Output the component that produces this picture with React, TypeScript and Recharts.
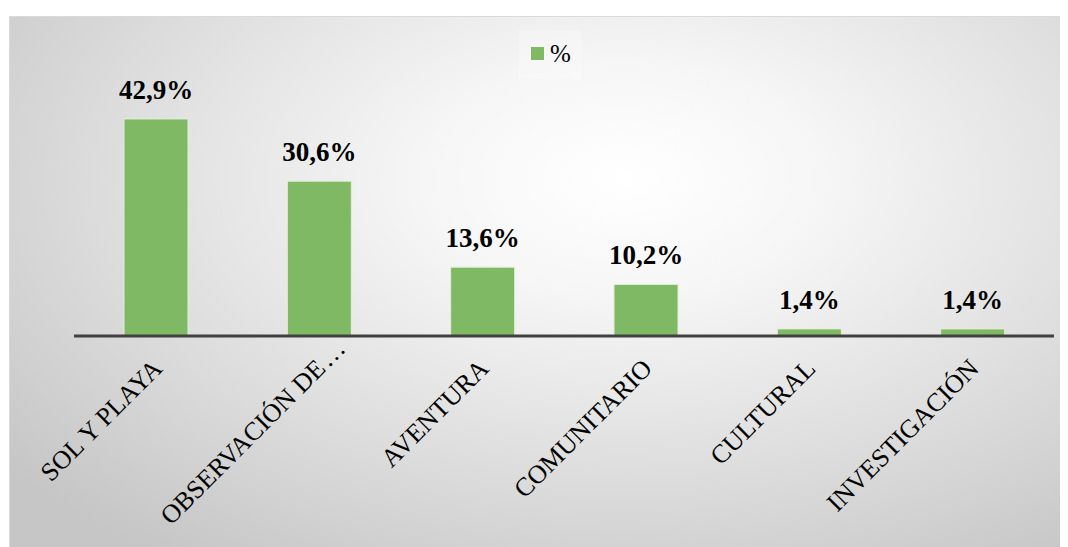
import React from "react";
import { BarChart, Bar, XAxis, YAxis, Legend, LabelList } from "recharts";

const categories = ["SOL Y PLAYA", "OBSERVACIÓN DE…", "AVENTURA", "COMUNITARIO", "CULTURAL", "INVESTIGACIÓN"];
const values = [42.9, 30.6, 13.6, 10.2, 1.4, 1.4];
const valueLabels = ["42,9%", "30,6%", "13,6%", "10,2%", "1,4%", "1,4%"];
const seriesName = "%";

const data = categories.map((c, i) => ({ name: c, value: values[i], label: valueLabels[i] }));

const FONT = "'Liberation Serif', 'Times New Roman', serif";

const Tick = (props: any) => {
  const { x, y, payload } = props;
  const ax = x + 8;
  const ay = y + 26;
  const full: string = payload.value;
  const hasEllipsis = full.endsWith("…");
  const main = hasEllipsis ? full.slice(0, -1) : full;
  const tf = `rotate(-45, ${ax}, ${ay})`;
  return (
    <g>
      <text x={ax} y={ay} textAnchor="end" fontFamily={FONT} fontSize={26} fill="#000" transform={tf}>
        {main}
      </text>
      {hasEllipsis && (
        <text x={ax + 2} y={ay} textAnchor="start" fontFamily={FONT} fontSize={26} fill="#000" transform={tf}>
          …
        </text>
      )}
    </g>
  );
};

const ValueLabel = (props: any) => {
  const { x, y, width, index } = props;
  return (
    <text
      x={x + width / 2}
      y={y - 20}
      textAnchor="middle"
      fontFamily={FONT}
      fontSize={27}
      fontWeight="bold"
      fill="#000"
    >
      {valueLabels[index]}
    </text>
  );
};

const LegendContent = () => (
  <div
    style={{
      display: "flex",
      alignItems: "center",
      fontFamily: FONT,
      fontSize: 25,
      color: "#000",
      background: "rgba(255,255,255,0.25)",
      padding: "10px 10px 12px 12px",
      height: 27,
    }}
  >
    <span style={{ display: "inline-block", width: 13, height: 13, background: "#80b963", marginRight: 6 }} />
    <span>{seriesName}</span>
  </div>
);

export default function App() {
  return (
    <div
      style={{
        marginTop: 8,
        marginLeft: 1,
        width: 1058,
        height: 540,
        border: "1px solid #dadada",
        borderRight: "none",
        borderBottom: "none",
        background:
          "radial-gradient(ellipse 75% 85% at 58% 30%, #ffffff 0%, #f6f6f6 25%, #e0e0e0 60%, #c6c6c6 100%)",
        position: "relative",
        overflow: "hidden",
      }}
    >
      <BarChart
        width={1058}
        height={530}
        data={data}
        margin={{ top: 17, right: 14, left: 64, bottom: 0 }}
      >
        <XAxis
          dataKey="name"
          interval={0}
          tickLine={false}
          axisLine={{ stroke: "#404040", strokeWidth: 3 }}
          tick={<Tick />}
          height={211}
        />
        <YAxis hide domain={[0, 50]} />
        <Legend
          verticalAlign="top"
          content={<LegendContent />}
          wrapperStyle={{ position: "absolute", top: 13, left: 509, width: "auto" }}
        />
        <Bar
          dataKey="value"
          name={seriesName}
          fill="#80b963"
          stroke="#e3edd9"
          strokeWidth={1}
          barSize={64}
          isAnimationActive={false}
        >
          <LabelList dataKey="label" content={<ValueLabel />} />
        </Bar>
      </BarChart>
    </div>
  );
}
